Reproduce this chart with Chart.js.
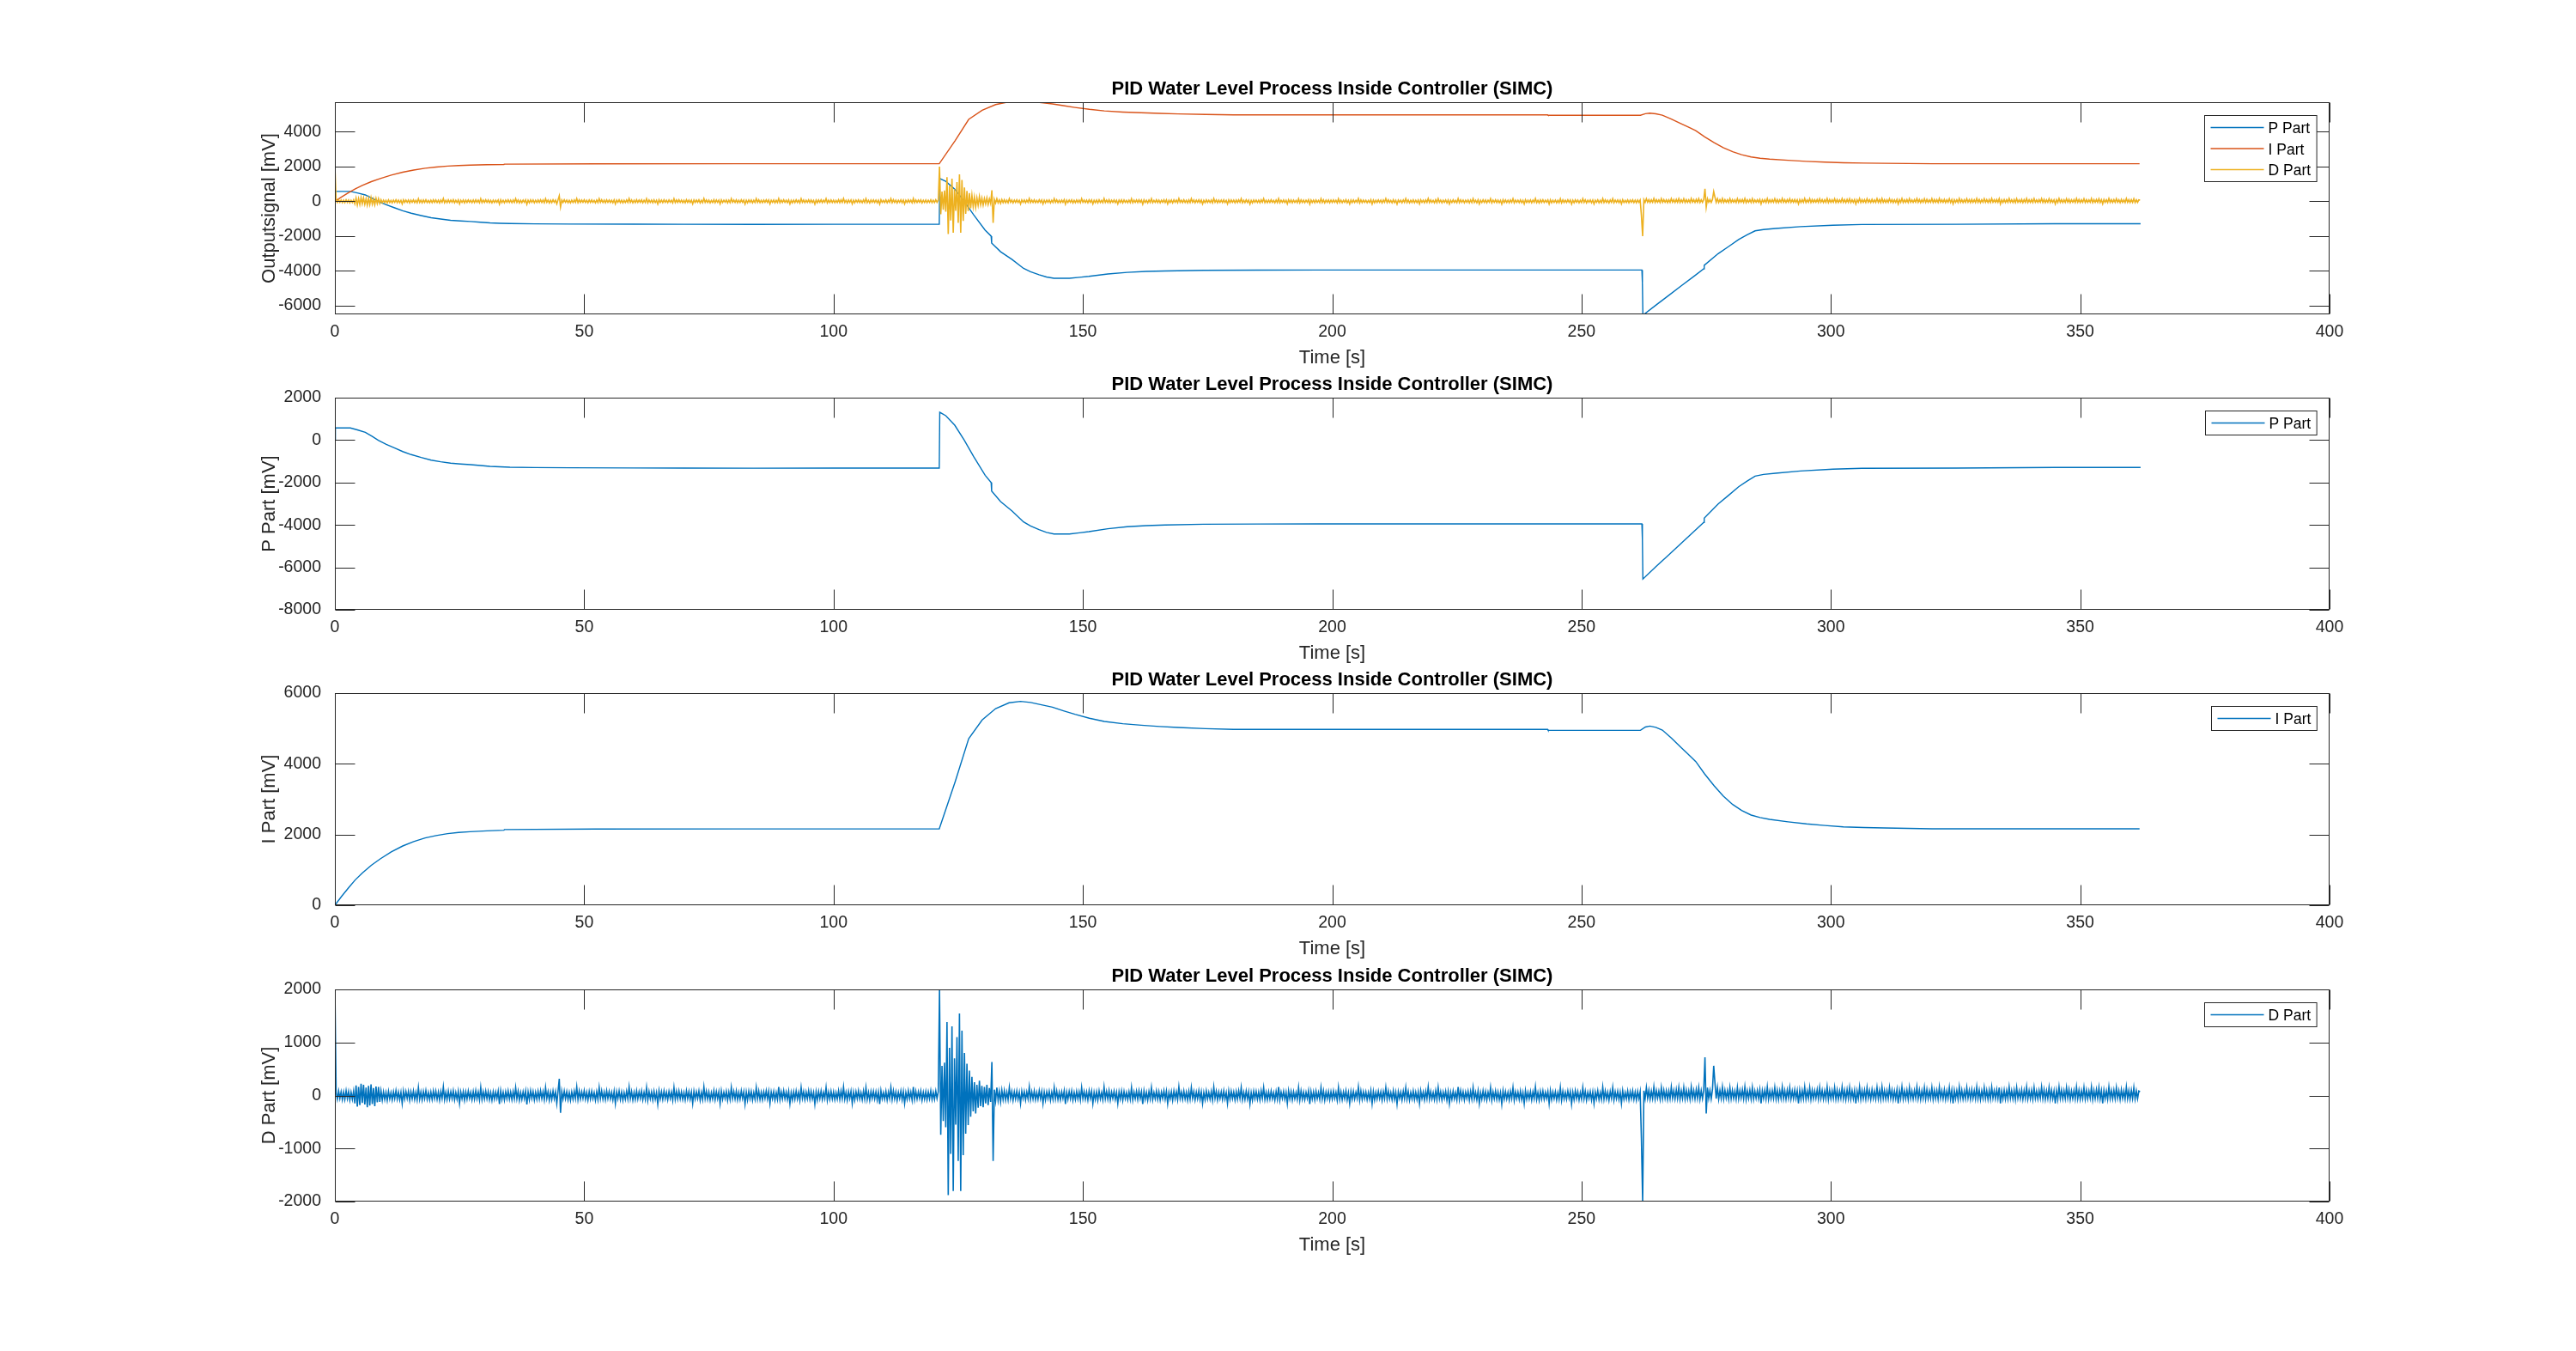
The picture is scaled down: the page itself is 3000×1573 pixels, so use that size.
<!DOCTYPE html>
<html><head><meta charset="utf-8">
<script src="https://cdn.jsdelivr.net/npm/chart.js@4.4.1/dist/chart.umd.min.js"></script>
<style>
html,body{margin:0;padding:0;background:#fff;width:3000px;height:1573px;overflow:hidden;}
.box{position:absolute;left:0;width:3000px;height:420px;}
canvas{display:block;}
</style></head><body>
<div class="box" style="top:49px"><canvas id="c0" width="3000" height="420"></canvas></div>
<div class="box" style="top:393px"><canvas id="c1" width="3000" height="420"></canvas></div>
<div class="box" style="top:737px"><canvas id="c2" width="3000" height="420"></canvas></div>
<div class="box" style="top:1082px"><canvas id="c3" width="3000" height="420"></canvas></div>
<script>
const chartTitle = 'PID Water Level Process Inside Controller (SIMC)';
const xAxisLabel = 'Time [s]';
const yAxisLabels = ['Outputsignal [mV]', 'P Part [mV]', 'I Part [mV]', 'D Part [mV]'];
const seriesNames = ['P Part', 'I Part', 'D Part'];
const xTicks = [0, 50, 100, 150, 200, 250, 300, 350, 400];
const yTicks1 = [-6000, -4000, -2000, 0, 2000, 4000];
const yTicks2 = [-8000, -6000, -4000, -2000, 0, 2000];
const yTicks3 = [0, 2000, 4000, 6000];
const yTicks4 = [-2000, -1000, 0, 1000, 2000];
const yRange1 = [-6500, 5700];
const yRange2 = [-8000, 2000];
const yRange3 = [0, 6000];
const yRange4 = [-2000, 2000];

const pTime = [0, 0.1, 3.1, 4.5, 6.1, 7.5, 8.7, 10.3, 12.0, 13.6, 15.3, 17.3, 19.3, 21.2, 23.2, 25.2, 27.2, 29.2, 31.1, 33.1, 35.1, 40, 47, 60, 70, 84, 100, 110, 121.2,
  121.3, 122.5, 124.3, 126.2, 128.1, 130.4, 131.6, 131.7, 133.5, 135.8, 138.1, 139.5, 141.2, 142.7, 144.2, 147.3, 149.3, 151.2, 155.0, 158.9, 162.7, 166.5, 174.2, 185, 197.3, 225.6, 250, 262.1,
  262.2, 262.3, 265, 267.5, 270, 272.5, 274.5, 274.6, 277.4, 279.5, 281.5, 283.2, 284.8, 286.5, 288.9, 293.9, 300.4, 306.2, 325.1, 344.9, 362.1];
const pValue = [0, 570, 570, 480, 368, 170, -12, -200, -376, -540, -684, -820, -943, -1020, -1089, -1128, -1158, -1200, -1239, -1262, -1279, -1295, -1306, -1315, -1320, -1325, -1322, -1320, -1320,
  1310, 1150, 704, 0, -781, -1657, -2000, -2400, -2900, -3344, -3857, -4050, -4221, -4350, -4425, -4425, -4370, -4316, -4180, -4085, -4032, -4005, -3965, -3955, -3950, -3950, -3951, -3951,
  -4680, -6550, -5950, -5410, -4860, -4320, -3883, -3680, -3008, -2600, -2198, -1930, -1697, -1620, -1563, -1455, -1373, -1332, -1320, -1292, -1292];

const iTime = [0, 1.4, 2.8, 4.1, 5.5, 7.3, 9.1, 11.3, 13.6, 15.8, 18.1, 20.3, 22.6, 24.8, 27.1, 30.5, 33.9, 34.0, 52.3, 80, 121.2,
  124.4, 127.1, 129.8, 132.5, 135.2, 137.5, 139.5, 141.7, 143.9, 146.1, 148.4, 151.3, 154.3, 158.0, 161.7, 165.4, 169.1, 174.6, 180.2, 243.2, 243.3, 261.8,
  262.8, 263.7, 264.9, 266.2, 268, 269.9, 271.4, 272.9, 274.7, 276.6, 278.4, 280.3, 282.1, 284.0, 285.8, 287.7, 291.4, 295.1, 298.8, 302.5, 306.6, 310.7, 320.3, 361.9];
const iValue = [0, 260, 505, 720, 910, 1130, 1312, 1510, 1676, 1800, 1903, 1970, 2025, 2058, 2081, 2105, 2122, 2140, 2155, 2160, 2163,
  3498, 4712, 5240, 5563, 5726, 5765, 5735, 5670, 5603, 5500, 5400, 5290, 5198, 5135, 5093, 5055, 5028, 4995, 4972, 4972, 4947, 4947,
  5040, 5068, 5030, 4955, 4730, 4469, 4270, 4065, 3710, 3377, 3090, 2850, 2680, 2551, 2480, 2430, 2360, 2300, 2255, 2218, 2198, 2186, 2163, 2163];

const dStep = 0.25;
const dValue = [
  2000, 60, -70, 85, -55, 70, -80, 65, -75, 90, -60, 75, -85, 60, -70, 80, -150, 190, -210, 160,
  -180, 220, -140, 200, -170, 150, -220, 180, -190, 210, -160, 140, -200, 170, -130, 160, -120, 90, -85, 70,
  -75, 60, -90, 80, -65, 55, -85, 70, -60, 90, -70, 65, -80, 60, -150, 85, -65, 75, -55, 80,
  -90, 70, -60, 85, -75, 60, -80, 150, -70, 65, -85, 75, -60, 90, -70, 55, -80, 65, -75, 85,
  -60, 80, -70, 65, -90, 75, -55, 160, -80, 60, -75, 85, -65, 70, -60, 90, -85, 55, -70, 80,
  -150, 65, -60, 75, -90, 70, -65, 85, -55, 60, -80, 75, -70, 90, -60, 65, -85, 150, -75, 70,
  -65, 85, -60, 75, -80, 55, -90, 70, -70, 65, -55, 80, -160, 90, -75, 60, -85, 70, -60, 85,
  -70, 65, -80, 75, -65, 150, -60, 80, -90, 55, -75, 70, -60, 85, -170, 65, -80, 90, -55, 75,
  -85, 60, -70, 80, -65, 90, -60, 75, -80, 150, -55, 70, -90, 65, -75, 85, -60, 70, -150, 80,
  315, -327, 75, -65, 85, -60, 70, -80, 55, -90, 65, -70, 80, -60, 160, -75, 85, -65, 70, -55,
  90, -70, 60, -85, 75, -65, 80, -60, 55, -90, 70, -75, 150, -60, 85, -70, 65, -80, 90, -55,
  75, -65, 60, -85, 80, -150, 70, -60, 85, -75, 65, -90, 55, -70, 80, -65, 160, -60, 75, -85,
  60, -75, 90, -65, 70, -55, 85, -80, 60, -70, 150, -90, 75, -60, 65, -85, 80, -70, 55, -160,
  90, -65, 70, -75, 85, -60, 60, -80, 75, -55, 65, -90, 150, -70, 80, -65, 85, -60, 70, -75,
  55, -85, 90, -60, 75, -70, 65, -150, 80, -65, 70, -55, 85, -90, 60, -75, 160, -60, 80, -70,
  65, -85, 55, -65, 90, -80, 75, -60, 70, -150, 85, -70, 60, -55, 80, -90, 65, -75, 150, -60,
  75, -65, 85, -80, 60, -70, 90, -55, 70, -160, 65, -85, 80, -60, 75, -90, 55, -70, 150, -65,
  85, -75, 60, -80, 70, -55, 90, -65, 80, -150, 65, -60, 75, -85, 55, -70, 160, -80, 70, -65,
  90, -60, 65, -75, 80, -150, 55, -85, 70, -70, 85, -65, 60, -90, 150, -55, 75, -80, 65, -60,
  90, -70, 80, -65, 55, -160, 70, -85, 75, -60, 85, -75, 60, -55, 150, -90, 65, -70, 80, -65,
  70, -80, 55, -65, 90, -75, 85, -60, 160, -70, 60, -90, 75, -55, 80, -150, 65, -85, 70, -60,
  90, -65, 55, -80, 85, -70, 150, -75, 60, -90, 75, -55, 80, -65, 70, -85, 65, -160, 90, -60,
  55, -70, 80, -85, 65, -60, 150, -75, 90, -65, 70, -90, 60, -55, 85, -80, 75, -150, 55, -70,
  90, -60, 65, -85, 160, -75, 80, -65, 70, -55, 85, -90, 60, -70, 75, -80, 65, -60, 90, -75,
  60, -70, 85, -55, 70, 1995, -740, 560, -480, 620, -600, 1385, -1880, 900, -1100, 1304, -1801, 700, -550, 1100,
  -1234, 1547, -1801, 1223, -1126, 800, -721, 600, -560, 470, -400, 350, -300, 250, -340, 200, -230, 280, -200, 180,
  -220, 160, -150, 200, -180, 140, -120, 630, -1234, 110, -100, 150, -90, 80, -120, 100, -75, 90, -85, 65,
  -80, 150, -60, 75, -90, 70, -65, 85, -70, 60, -150, 80, -55, 75, -85, 65, -60, 160, -75, 70,
  -65, 85, -80, 55, -70, 90, -60, 75, -150, 65, -85, 70, -55, 80, -90, 60, -70, 150, -65, 85,
  -75, 60, -80, 70, -55, 90, -160, 65, -70, 75, -60, 85, -90, 55, -75, 80, -65, 70, -85, 150,
  -60, 75, -70, 65, -85, 90, -55, 80, -150, 60, -75, 70, -90, 85, -65, 55, -80, 160, -60, 75,
  -70, 90, -85, 65, -55, 80, -75, 60, -150, 70, -65, 85, -90, 75, -60, 55, -80, 70, -70, 150,
  -85, 65, -60, 80, -75, 90, -55, 70, -160, 85, -70, 60, -90, 75, -65, 150, -80, 55, -60, 85,
  -75, 70, -85, 65, -55, 90, -70, 80, -150, 60, -65, 75, -90, 85, -60, 70, -80, 160, -55, 65,
  -75, 85, -65, 60, -90, 80, -70, 150, -55, 75, -85, 65, -60, 90, -75, 70, -150, 55, -80, 85,
  -65, 60, -70, 75, -90, 160, -55, 80, -85, 65, -60, 70, -75, 90, -65, 55, -150, 85, -70, 80,
  -60, 65, -85, 75, -70, 90, -55, 150, -80, 60, -75, 85, -65, 70, -160, 55, -90, 80, -60, 75,
  -70, 65, -85, 90, -55, 150, -75, 60, -80, 70, -65, 85, -60, 55, -90, 75, -70, 160, -85, 65,
  -55, 80, -70, 60, -150, 90, -65, 75, -85, 70, -60, 55, -75, 150, -90, 85, -70, 65, -80, 60,
  -55, 90, -160, 75, -65, 70, -85, 80, -60, 55, -75, 150, -70, 85, -90, 65, -60, 75, -80, 70,
  -65, 85, -55, 60, -90, 150, -75, 70, -80, 65, -60, 90, -85, 55, -150, 75, -70, 80, -65, 60,
  -55, 160, -90, 85, -75, 70, -60, 65, -80, 55, -70, 90, -150, 75, -85, 60, -65, 80, -55, 70,
  -90, 75, -60, 150, -70, 85, -65, 55, -80, 90, -75, 60, -160, 70, -55, 65, -85, 80, -60, 150,
  -70, 75, -90, 55, -65, 85, -80, 60, -75, 70, -150, 90, -55, 65, -85, 80, -60, 160, -70, 75,
  -65, 55, -80, 90, -75, 150, -60, 70, -85, 65, -55, 80, -90, 75, -150, 60, -70, 85, -65, 55,
  -80, 160, -75, 90, -60, 70, -85, 65, -55, 80, -90, 75, -70, 150, -65, 60, -80, 85, -150, 55,
  -70, 90, -65, 75, -85, 60, -55, 150, -90, 70, -60, 85, -75, 65, -80, 55, -160, 90, -70, 75,
  -65, 60, -85, 80, -55, 150, -90, 70, -60, 65, -75, 85, -80, 55, -150, 90, -70, 60, -65, 75,
  -85, 70, -60, 160, -75, 55, -90, 80, -65, 85, -70, 60, -55, 75, -150, 90, -80, 65, -60, 70,
  -85, 55, -75, 150, -90, 80, -65, 60, -70, 85, -55, 75, -160, 65, -80, 90, -60, 70, -85, 55,
  -70, 150, -65, 80, -90, 60, -55, 75, -85, 70, -150, 65, -60, 90, -80, 55, -75, 160, -70, 85,
  -65, 60, -90, 75, -55, 150, -85, 70, -60, 80, -75, 65, -150, 90, -70, 55, -65, 85, -80, 70,
  -60, 90, -75, 65, -85, 80, -55, 70, -800, -2000, 90, -60, 150, -50, 100, -70, 85, -55, 160, -65,
  95, -50, 80, -70, 150, -60, 100, -55, 90, -75, 85, -60, 160, -50, 95, -65, 110, -55, 150, -70,
  90, -55, 150, -65, 100, -60, 85, -70, 160, -50, 95, -65, 110, -55, 150, -70, 90, -60, 100, 720,
  -340, 150, -55, 95, -65, 110, 560, 235, -60, 150, -70, 95, -55, 160, -65, 100, -50, 90, -70, 150,
  -60, 100, -55, 85, -70, 150, -65, 95, -50, 110, -60, 160, -75, 90, -55, 100, -65, 150, -70, 85,
  -50, 95, -60, 110, -150, 90, -55, 100, -65, 160, -70, 85, -60, 95, -55, 150, -65, 100, -75, 90,
  -55, 160, -60, 95, -70, 100, -50, 150, -65, 85, -60, 110, -55, 90, -150, 100, -70, 95, -60, 160,
  -65, 85, -55, 150, -70, 100, -60, 90, -50, 110, -65, 150, -55, 95, -70, 85, -60, 160, -75, 100,
  -60, 90, -55, 150, -65, 100, -70, 85, -50, 160, -60, 95, -75, 110, -55, 150, -65, 90, -60, 100,
  -150, 85, -55, 160, -70, 95, -60, 100, -65, 150, -50, 90, -70, 110, -55, 85, -65, 150, -60, 100,
  -70, 160, -55, 95, -65, 90, -60, 150, -50, 100, -75, 85, -60, 110, -150, 95, -55, 160, -65, 90,
  -60, 100, -70, 150, -55, 85, -65, 95, -50, 160, -60, 100, -75, 90, -55, 150, -65, 110, -60, 85,
  -55, 150, -70, 100, -60, 95, -65, 160, -50, 90, -60, 110, -75, 85, -55, 150, -65, 100, -150, 95,
  -60, 90, -70, 160, -55, 100, -65, 85, -60, 150, -50, 95, -70, 110, -55, 90, -65, 160, -60, 100,
  -75, 85, -55, 150, -60, 95, -70, 100, -65, 160, -50, 90, -60, 110, -55, 150, -150, 85, -65, 100,
  -70, 95, -60, 160, -55, 90, -65, 100, -75, 150, -50, 85, -60, 110, -70, 95, -55, 160, -65, 90,
  -60, 100, -70, 150, -55, 85, -65, 95, -50, 160, -60, 110, -75, 90, -55, 150, -65, 100, -60, 85,
  -150, 95, -70, 160, -55, 100, -65, 90, -60, 150, -50, 110, -75, 85, -55, 95, -65, 160, -60, 100,
  -70, 90, -55, 150, -65, 100, -60, 85, -50, 160, -75, 95, -60, 110, -55, 150, -65, 90, -150, 100,
  -60, 85, -70, 160, -55, 95, -65, 100, -60, 150, -50, 90, -75, 110, -55, 85, -65, 160, -60, 95,
  -70, 100, -55, 150, -65, 90, -60, 85, 70
];

const COLORS = { blue: '#0072BD', orange: '#D95319', yellow: '#EDB120', axis: '#262626' };
const FAMILY = '"Liberation Sans", Arial, Helvetica, sans-serif';

const pData = pTime.map((t, k) => ({ x: t, y: pValue[k] }));
const iData = iTime.map((t, k) => ({ x: t, y: iValue[k] }));
const dData = dValue.map((v, k) => ({ x: k * dStep, y: v }));

const framePlugin = {
  id: 'matlabFrame',
  afterDraw(chart, args, opts) {
    const ctx = chart.ctx;
    const { left, right, top, bottom } = chart.chartArea;
    const xs = chart.scales.x, ys = chart.scales.y;
    const L = Math.round(left) + 0.5, R = Math.round(right) - 0.5, T = Math.round(top) + 0.5, B = Math.round(bottom) - 0.5;
    ctx.save();
    ctx.strokeStyle = COLORS.axis;
    ctx.lineWidth = 1;
    const TL = 23;
    ctx.beginPath();
    xs.ticks.forEach(t => {
      const px = Math.round(xs.getPixelForValue(t.value)) + 0.5;
      ctx.moveTo(px, B); ctx.lineTo(px, B - TL);
      ctx.moveTo(px, T); ctx.lineTo(px, T + TL);
    });
    ys.ticks.forEach(t => {
      const py = Math.round(ys.getPixelForValue(t.value)) + 0.5;
      ctx.moveTo(L, py); ctx.lineTo(L + TL, py);
      ctx.moveTo(R, py); ctx.lineTo(R - TL, py);
    });
    ctx.stroke();
    ctx.strokeRect(L, T, R - L, B - T);

    ctx.fillStyle = '#000';
    ctx.font = 'bold 22px ' + FAMILY;
    ctx.textAlign = 'center';
    ctx.textBaseline = 'alphabetic';
    ctx.fillText(chartTitle, (left + right) / 2, top - 9.5);
    ctx.fillStyle = COLORS.axis;
    ctx.font = '22px ' + FAMILY;
    ctx.fillText(xAxisLabel, (left + right) / 2, bottom + 57);
    ctx.save();
    ctx.translate(320, (top + bottom) / 2);
    ctx.rotate(-Math.PI / 2);
    ctx.fillText(opts.yLabel, 0, 0);
    ctx.restore();

    const ds = chart.data.datasets;
    ctx.font = '17.5px ' + FAMILY;
    const tw = Math.max(...ds.map(d => ctx.measureText(d.label).width));
    const bw = 7 + 62 + 5 + tw + 7;
    const bh = 28 + (ds.length - 1) * 24.5;
    const bx = Math.round(right - 15 - bw) + 0.5, by = Math.round(top + 15) + 0.5;
    ctx.fillStyle = '#fff';
    ctx.fillRect(bx, by, bw, bh);
    ctx.strokeStyle = COLORS.axis;
    ctx.lineWidth = 1;
    ctx.strokeRect(bx, by, bw, bh);
    ds.forEach((d, k) => {
      const ly = by + 14 + k * 24.5;
      ctx.strokeStyle = d.borderColor;
      ctx.lineWidth = 1.5;
      ctx.beginPath();
      ctx.moveTo(bx + 7, ly); ctx.lineTo(bx + 69, ly);
      ctx.stroke();
      ctx.fillStyle = '#000';
      ctx.textAlign = 'left';
      ctx.textBaseline = 'alphabetic';
      ctx.fillText(d.label, bx + 74, ly + 6.5);
    });
    ctx.restore();
  }
};

function makeChart(id, datasets, yRange, yTicks, yLabel) {
  return new Chart(document.getElementById(id), {
    type: 'line',
    data: { datasets },
    options: {
      responsive: false,
      animation: false,
      devicePixelRatio: 1,
      events: [],
      layout: { padding: { top: 70, left: 290, right: 287, bottom: 43 } },
      elements: { point: { radius: 0 }, line: { tension: 0 } },
      plugins: {
        legend: { display: false },
        tooltip: { enabled: false },
        title: { display: false },
        matlabFrame: { yLabel }
      },
      scales: {
        x: {
          type: 'linear', min: 0, max: 400,
          afterBuildTicks: s => { s.ticks = xTicks.map(v => ({ value: v })); },
          afterFit: s => { s.height = 60; },
          grid: { display: false },
          border: { display: false },
          ticks: { font: { family: FAMILY, size: 19.5 }, color: COLORS.axis, padding: 1, maxRotation: 0, autoSkip: false, callback: v => String(v) }
        },
        y: {
          type: 'linear', min: yRange[0], max: yRange[1],
          afterBuildTicks: s => { s.ticks = yTicks.map(v => ({ value: v })); },
          afterFit: s => { s.width = 100; },
          grid: { display: false },
          border: { display: false },
          ticks: { font: { family: FAMILY, size: 19.5 }, color: COLORS.axis, padding: 8, autoSkip: false, callback: v => String(v) }
        }
      }
    },
    plugins: [framePlugin]
  });
}

function ds(label, data, color, width, order) {
  return { label, data, borderColor: color, backgroundColor: color, borderWidth: width, pointRadius: 0, fill: false, order, spanGaps: true };
}

makeChart('c0', [
  ds(seriesNames[0], pData, COLORS.blue, 1.4, 2),
  ds(seriesNames[1], iData, COLORS.orange, 1.4, 1),
  ds(seriesNames[2], dData, COLORS.yellow, 1.6, 0)
], yRange1, yTicks1, yAxisLabels[0]);
makeChart('c1', [ds(seriesNames[0], pData, COLORS.blue, 1.4, 0)], yRange2, yTicks2, yAxisLabels[1]);
makeChart('c2', [ds(seriesNames[1], iData, COLORS.blue, 1.4, 0)], yRange3, yTicks3, yAxisLabels[2]);
makeChart('c3', [ds(seriesNames[2], dData, COLORS.blue, 1.6, 0)], yRange4, yTicks4, yAxisLabels[3]);
</script>
</body></html>
